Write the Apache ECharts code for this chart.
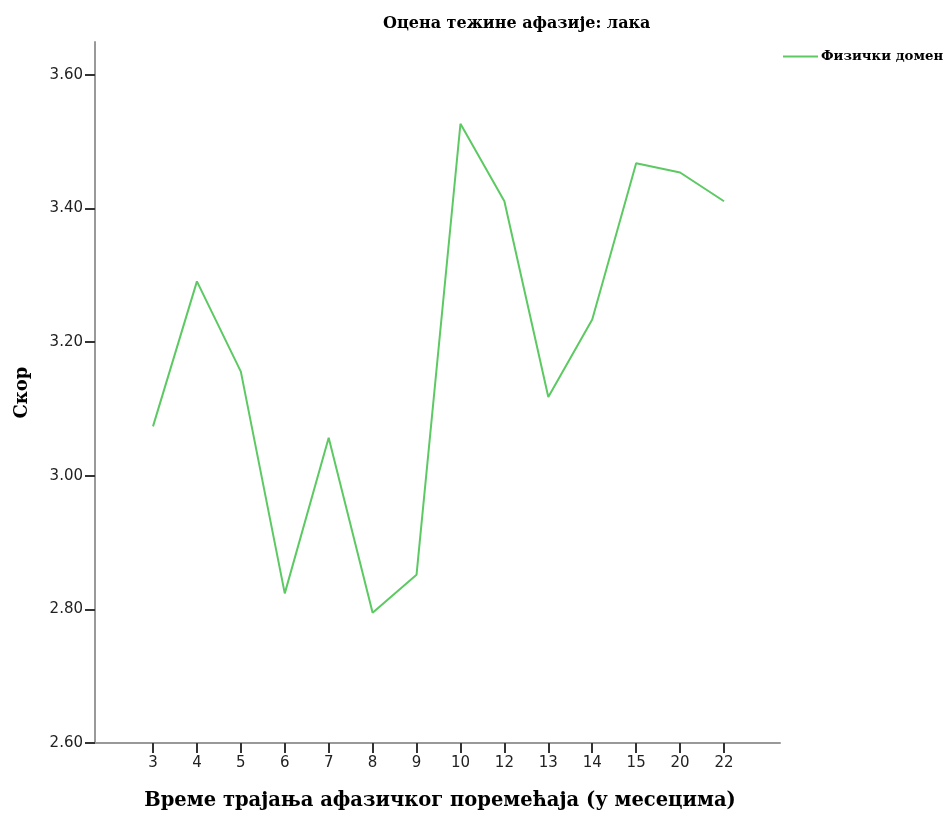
<!DOCTYPE html>
<html>
<head>
<meta charset="utf-8">
<script src="https://cdn.jsdelivr.net/npm/echarts@6/dist/echarts.min.js"></script>
<style>html,body{margin:0;padding:0;background:#fff}#c{width:948px;height:816px}</style>
</head>
<body>
<div id="c"></div>
<script>
const categories = ['3','4','5','6','7','8','9','10','12','13','14','15','20','22'];
const values = [3.074, 3.291, 3.156, 2.824, 3.057, 2.795, 2.852, 3.527, 3.411, 3.118, 3.234, 3.468, 3.454, 3.411];
const seriesName = 'Физички домен';
const titleText = 'Оцена тежине афазије: лака';
const xName = 'Време трајања афазичког поремећаја (у месецима)';
const yName = 'Скор';

const serif = 'DejaVu Serif';
const chart = echarts.init(document.getElementById('c'), null, {renderer: 'canvas'});
chart.setOption({
  animation: false,
  backgroundColor: '#fff',
  title: {
    text: titleText, left: 378, top: 11,
    textStyle: {fontFamily: serif, fontWeight: 'bold', fontSize: 16, color: '#000'}
  },
  legend: {
    data: [{name: seriesName, icon: 'rect'}], left: 778, top: 45, itemWidth: 35, itemHeight: 2, itemGap: 4,
    itemStyle: {color: '#5cc963'},
    textStyle: {fontFamily: serif, fontWeight: 'bold', fontSize: 13.3, color: '#000', padding: [0,0,0,-2]}
  },
  grid: [
    {left: 95, right: 168, top: 42, bottom: 73},
    {left: 153, right: 224, top: 75, bottom: 73}
  ],
  xAxis: [
    {
      gridIndex: 0, type: 'value', min: 0, max: 1,
      axisLine: {show: true, lineStyle: {color: '#999', width: 2}},
      axisTick: {show: false}, axisLabel: {show: false}, splitLine: {show: false},
      name: xName, nameLocation: 'middle', nameGap: 48,
      nameTextStyle: {fontFamily: serif, fontWeight: 'bold', fontSize: 19.5, color: '#000', padding: [0,0,0,5]}
    },
    {
      gridIndex: 1, type: 'category', data: categories, boundaryGap: false,
      axisLine: {show: false},
      axisTick: {show: true, length: 10, alignWithLabel: true, lineStyle: {color: '#333', width: 2}},
      axisLabel: {margin: 13, fontFamily: 'DejaVu Sans', fontSize: 15, color: '#222'},
      splitLine: {show: false}
    }
  ],
  yAxis: [
    {
      gridIndex: 0, type: 'value', min: 0, max: 1,
      axisLine: {show: true, lineStyle: {color: '#999', width: 2}},
      axisTick: {show: false}, axisLabel: {show: false}, splitLine: {show: false},
      name: yName, nameLocation: 'middle', nameGap: 64, nameRotate: 90,
      nameTextStyle: {fontFamily: serif, fontWeight: 'bold', fontSize: 18, color: '#000'}
    },
    {
      gridIndex: 1, type: 'value', min: 2.6, max: 3.6, interval: 0.2, offset: 58,
      axisLine: {show: false},
      axisTick: {show: true, length: 10, lineStyle: {color: '#333', width: 2}},
      axisLabel: {margin: 12, fontFamily: 'DejaVu Sans', fontSize: 15, color: '#222',
        formatter: v => v.toFixed(2)},
      splitLine: {show: false}
    }
  ],
  series: [{
    name: seriesName, type: 'line', xAxisIndex: 1, yAxisIndex: 1,
    data: values, symbol: 'none',
    lineStyle: {color: '#5cc963', width: 2},
    itemStyle: {color: '#5cc963'}
  }]
});
</script>
</body>
</html>
